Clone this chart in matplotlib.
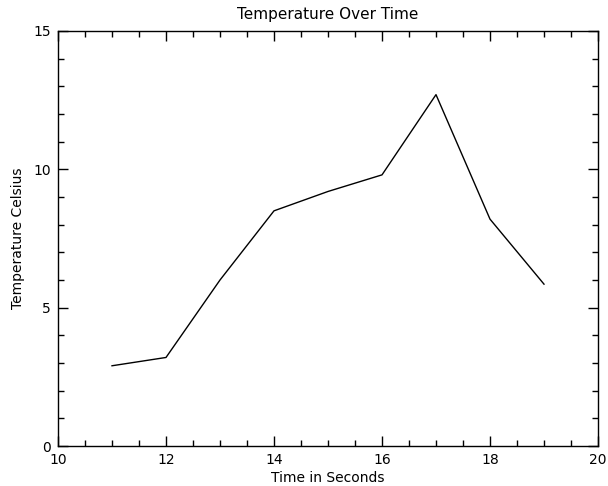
import numpy as np
import matplotlib
matplotlib.use('Agg')
import matplotlib.pyplot as plt
from matplotlib.ticker import MultipleLocator

# Temperature readings
seconds = [11, 12, 13, 14, 15, 16, 17, 18, 19]
temperature = [2.9, 3.2, 6.0, 8.5, 9.2, 9.8, 12.7, 8.2, 5.85]

fig = plt.figure(figsize=(6.08, 4.86), dpi=100)
ax = fig.add_axes([58 / 608, 40 / 486, 540 / 608, 415 / 486])

ax.plot(seconds, temperature, color='black', linewidth=1.0)

ax.set_xlim(10, 20)
ax.set_ylim(0, 15)
ax.xaxis.set_major_locator(MultipleLocator(2))
ax.xaxis.set_minor_locator(MultipleLocator(0.5))
ax.yaxis.set_major_locator(MultipleLocator(5))
ax.yaxis.set_minor_locator(MultipleLocator(1))
ax.tick_params(which='both', direction='in', top=True, right=True,
               labelsize=10, width=1, colors='black')
ax.tick_params(which='major', length=7, pad=5)
ax.tick_params(which='minor', length=4)
for s in ax.spines.values():
    s.set_linewidth(1)

ax.set_title('Temperature Over Time', fontsize=11, pad=9)
ax.set_xlabel('Time in Seconds', fontsize=10, labelpad=3)
ax.set_ylabel('Temperature Celsius', fontsize=10, labelpad=6)

plt.savefig('out.png', dpi=100)
